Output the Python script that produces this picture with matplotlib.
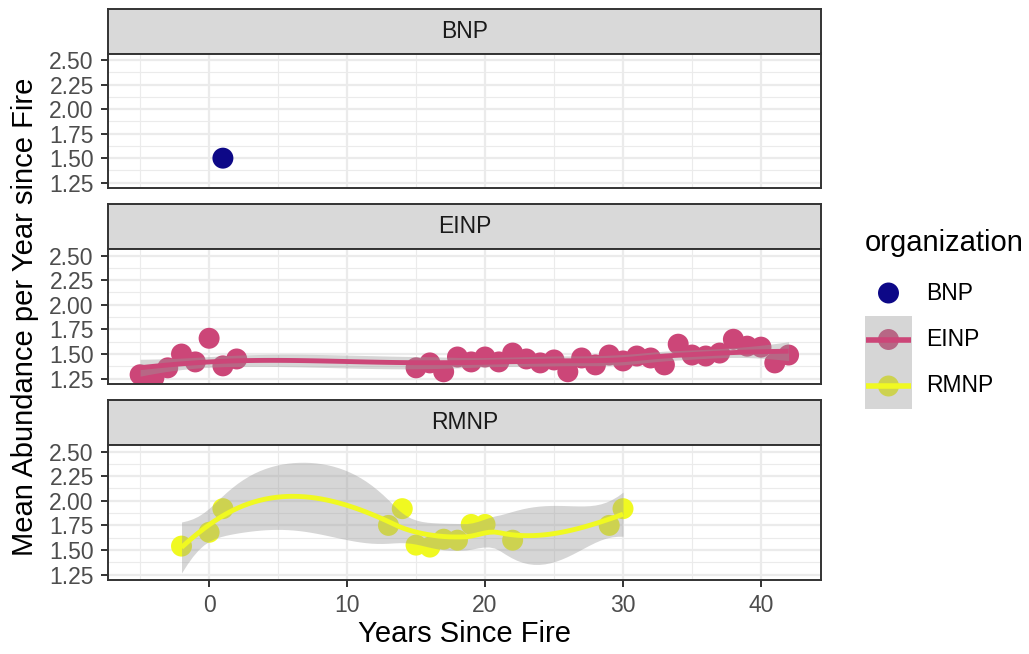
import numpy as np
import matplotlib
matplotlib.use("Agg")
import matplotlib.pyplot as plt
from matplotlib.patches import Rectangle

plt.rcParams['font.family'] = ['Liberation Sans', 'DejaVu Sans']

# ---- data ----
organizations = ['BNP', 'EINP', 'RMNP']
colors = {'BNP': '#0D0887', 'EINP': '#CC4678', 'RMNP': '#F0F921'}

bnp_years = [1]
bnp_abund = [1.50]

einp_years = [-5, -4, -3, -2, -1, 0, 1, 2,
              15, 16, 17, 18, 19, 20, 21, 22, 23, 24, 25, 26, 27, 28,
              29, 30, 31, 32, 33, 34, 35, 36, 37, 38, 39, 40, 41, 42]
einp_abund = [1.29, 1.26, 1.36, 1.50, 1.42, 1.66, 1.38, 1.45,
              1.36, 1.41, 1.32, 1.47, 1.42, 1.47, 1.42, 1.51, 1.45, 1.41, 1.44, 1.32, 1.46, 1.39,
              1.49, 1.43, 1.48, 1.46, 1.39, 1.60, 1.49, 1.48, 1.51, 1.65, 1.58, 1.57, 1.41, 1.49]

rmnp_years = [-2, 0, 1, 13, 14, 15, 16, 17, 18, 19, 20, 22, 29, 30]
rmnp_abund = [1.54, 1.68, 1.92, 1.75, 1.92, 1.55, 1.53, 1.61, 1.60, 1.76, 1.76, 1.60, 1.75, 1.92]

x_ticks = [0, 10, 20, 30, 40]
y_ticks = [1.25, 1.50, 1.75, 2.00, 2.25, 2.50]


def t975(df):
    z = 1.959964
    return z + (z**3 + z) / (4 * df) + (5 * z**5 + 16 * z**3 + 3 * z) / (96 * df**2)


def local_rows(x, x0, q):
    # operator rows for value and slope of a tricube-weighted local quadratic
    d = np.abs(x - x0)
    h = np.sort(d)[q - 1]
    w = np.clip(1 - (d / h) ** 3, 0, None) ** 3
    X = np.column_stack([np.ones(len(x)), x - x0, (x - x0) ** 2])
    XtW = X.T * w
    B = np.linalg.solve(XtW @ X, XtW)
    return B[0], B[1]


def kd_vertices(x, fc):
    xs = np.sort(x)
    r = xs[-1] - xs[0]
    verts = [xs[0] - 0.005 * r, xs[-1] + 0.005 * r]

    def split(pts):
        if len(pts) <= fc:
            return
        m = (len(pts) - 1) // 2
        v = 0.5 * (pts[m] + pts[m + 1])
        verts.append(v)
        split(pts[:m + 1])
        split(pts[m + 1:])

    split(xs)
    return np.unique(verts)


def loess_operator(x, xq, span=0.75):
    # R-style loess: fits at kd-tree vertices, cubic Hermite interpolation between
    n = len(x)
    q = int(np.floor(n * span))
    fc = int(np.floor(n * span * 0.2))
    vx = kd_vertices(x, fc)
    val = []
    slo = []
    for v in vx:
        a, b = local_rows(x, v, q)
        val.append(a)
        slo.append(b)
    val = np.array(val)
    slo = np.array(slo)
    L = np.zeros((len(xq), n))
    for i, x0 in enumerate(xq):
        j = np.clip(np.searchsorted(vx, x0) - 1, 0, len(vx) - 2)
        x1, x2 = vx[j], vx[j + 1]
        hh = x2 - x1
        t = (x0 - x1) / hh
        h00 = 2 * t**3 - 3 * t**2 + 1
        h10 = t**3 - 2 * t**2 + t
        h01 = -2 * t**3 + 3 * t**2
        h11 = t**3 - t**2
        L[i] = h00 * val[j] + h10 * hh * slo[j] + h01 * val[j + 1] + h11 * hh * slo[j + 1]
    return L


def loess_smooth(x, y, n_out=80):
    x = np.asarray(x, float)
    y = np.asarray(y, float)
    xs = np.linspace(x.min(), x.max(), n_out)
    Ld = loess_operator(x, x)
    R = np.eye(len(x)) - Ld
    RR = R.T @ R
    d1 = np.trace(RR)
    d2 = np.trace(RR @ RR)
    s = np.sqrt(np.sum((R @ y) ** 2) / d1)
    Lq = loess_operator(x, xs)
    fit = Lq @ y
    se = s * np.sqrt(np.sum(Lq ** 2, axis=1))
    t = t975(d1 ** 2 / d2)
    return xs, fit, fit - t * se, fit + t * se


W, H = 1029, 654


def box(x0, y0, x1, y1):
    return [x0 / W, 1 - y1 / H, (x1 - x0) / W, (y1 - y0) / H]


fig = plt.figure(figsize=(W / 100, H / 100), dpi=100)

strips = [(9, 53.5), (204, 249), (400, 445)]
panels = [(53.5, 188), (249, 384), (445, 580)]
series = {'BNP': (bnp_years, bnp_abund),
          'EINP': (einp_years, einp_abund),
          'RMNP': (rmnp_years, rmnp_abund)}

x_all = bnp_years + einp_years + rmnp_years
xr = max(x_all) - min(x_all)
xlim = (min(x_all) - 0.05 * xr, max(x_all) + 0.05 * xr)
ylim = (1.196, 2.566)
x_minor = [-5, 5, 15, 25, 35]
y_minor = [1.375, 1.625, 1.875, 2.125, 2.375]

for k, org in enumerate(organizations):
    sx = fig.add_axes(box(107.7, strips[k][0], 821, strips[k][1]))
    sx.set_facecolor('#D9D9D9')
    sx.set_xticks([])
    sx.set_yticks([])
    for sp in sx.spines.values():
        sp.set_color('#333333')
        sp.set_linewidth(1.4)
    sx.text(0.5, 0.5, org, ha='center', va='center', fontsize=16.5, color='#1A1A1A',
            transform=sx.transAxes)

    ax = fig.add_axes(box(107.7, panels[k][0], 821, panels[k][1]))
    ax.set_xlim(xlim)
    ax.set_ylim(ylim)
    for v in x_minor:
        ax.axvline(v, color='#EBEBEB', lw=0.85, zorder=0)
    for v in y_minor:
        ax.axhline(v, color='#EBEBEB', lw=0.85, zorder=0)
    for v in x_ticks:
        ax.axvline(v, color='#EBEBEB', lw=1.6, zorder=0)
    for v in y_ticks:
        ax.axhline(v, color='#EBEBEB', lw=1.6, zorder=0)

    xv, yv = series[org]
    ax.scatter(xv, yv, s=228, color=colors[org], edgecolors='none', zorder=2)
    if len(xv) > 3:
        xs, fit, lo, hi = loess_smooth(xv, yv)
        ax.fill_between(xs, lo, hi, color='#999999', alpha=0.4, lw=0, zorder=3)
        ax.plot(xs, fit, color=colors[org], lw=3.5, zorder=4, solid_capstyle='butt')

    ax.set_xticks(x_ticks)
    ax.set_yticks(y_ticks)
    ax.set_yticklabels([f'{v:.2f}' for v in y_ticks])
    ax.tick_params(axis='both', colors='#333333', labelcolor='#4D4D4D', labelsize=16.5,
                   length=5, width=1.4, pad=5)
    if k < 2:
        ax.tick_params(axis='x', length=0, labelbottom=False)
    for sp in ax.spines.values():
        sp.set_color('#333333')
        sp.set_linewidth(1.4)

fig.text(464 / W, 1 - 634 / H, 'Years Since Fire', ha='center', va='center', fontsize=21)
fig.text(25 / W, 1 - 317 / H, 'Mean Abundance per Year since Fire', ha='center', va='center',
         rotation=90, fontsize=21)

# ---- legend ----
lg = fig.add_axes([0, 0, 1, 1])
lg.set_xlim(0, W)
lg.set_ylim(H, 0)
lg.axis('off')
lg.text(865, 243, 'organization', ha='left', va='center', fontsize=21)
key_y = [293, 339.5, 386]
for org, yk in zip(organizations, key_y):
    lg.scatter([888.5], [yk], s=228, color=colors[org], edgecolors='none', zorder=2)
    if org != 'BNP':
        lg.add_patch(Rectangle((865, yk - 23.25), 47, 46.5, facecolor='#999999', alpha=0.4,
                               edgecolor='none', zorder=3))
        lg.plot([866, 911], [yk, yk], color=colors[org], lw=4, zorder=4, solid_capstyle='butt')
    lg.text(926, yk, org, ha='left', va='center', fontsize=16.5)

fig.savefig('out.png', dpi=100)
